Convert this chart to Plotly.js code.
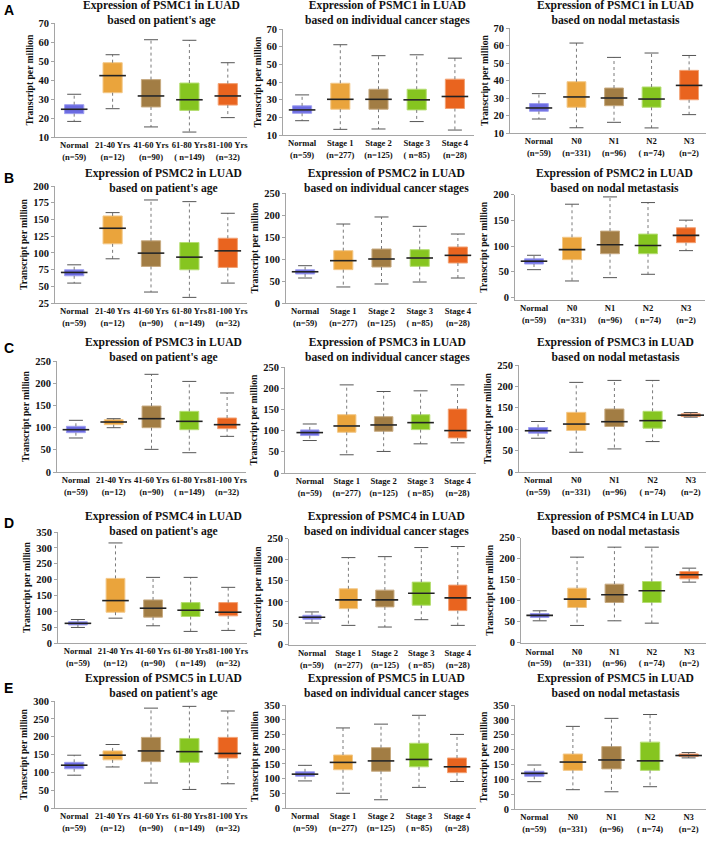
<!DOCTYPE html>
<html><head><meta charset="utf-8">
<script src="https://cdn.plot.ly/plotly-3.0.1.min.js"></script>
<style>html,body{margin:0;padding:0;background:#fff}#chart{width:708px;height:844px}</style>
</head><body><div id="chart"></div>
<script>
// ---- tick labels / categories ----
const catsAge = ['Normal<br>(n=59)', '21-40 Yrs<br>(n=12)', '41-60 Yrs<br>(n=90)', '61-80 Yrs<br>( n=149)', '81-100 Yrs<br>(n=32)'];
const catsStage = ['Normal<br>(n=59)', 'Stage 1<br>(n=277)', 'Stage 2<br>(n=125)', 'Stage 3<br>( n=85)', 'Stage 4<br>(n=28)'];
const catsNodal = ['Normal<br>(n=59)', 'N0<br>(n=331)', 'N1<br>(n=96)', 'N2<br>( n=74)', 'N3<br>(n=2)'];
const genes = ['PSMC1', 'PSMC2', 'PSMC3', 'PSMC4', 'PSMC5'];
const panelLetters = ['A', 'B', 'C', 'D', 'E'];
const subtitles = {age: "based on patient's age", stage: 'based on individual cancer stages', nodal: 'based on nodal metastasis'};

// ---- box statistics: [lower whisker, q1, median, q3, upper whisker] per category ----
const PSMC1_age_low = [18.2, 24.9, 15.3, 12.6, 20.2];
const PSMC1_age_q1  = [22.3, 33.3, 25.8, 24.0, 26.8];
const PSMC1_age_med = [24.6, 42.3, 31.6, 29.6, 31.6];
const PSMC1_age_q3  = [27.0, 49.1, 40.2, 38.4, 38.1];
const PSMC1_age_high= [32.5, 53.3, 61.2, 60.9, 49.1];

const PSMC1_stage_low = [18.1, 13.2, 13.4, 17.6, 12.8];
const PSMC1_stage_q1  = [22.3, 24.6, 24.6, 24.2, 25.0];
const PSMC1_stage_med = [24.2, 30.2, 30.2, 29.9, 31.8];
const PSMC1_stage_q3  = [26.5, 39.3, 35.9, 35.9, 41.6];
const PSMC1_stage_high= [32.7, 61.1, 54.9, 55.4, 53.5];

const PSMC1_nodal_low = [18.0, 13.0, 16.1, 12.9, 20.5];
const PSMC1_nodal_q1  = [22.4, 24.7, 25.6, 24.7, 29.0];
const PSMC1_nodal_med = [24.3, 30.6, 30.0, 29.4, 37.2];
const PSMC1_nodal_q3  = [26.8, 39.3, 35.7, 36.3, 45.8];
const PSMC1_nodal_high= [32.5, 61.4, 53.2, 55.7, 54.3];

const PSMC2_age_low = [54.8, 91.1, 41.4, 33.4, 54.8];
const PSMC2_age_q1  = [65.7, 113.5, 79.7, 74.7, 78.2];
const PSMC2_age_med = [70.7, 136.8, 99.6, 93.6, 103.0];
const PSMC2_age_q3  = [74.7, 155.2, 118.0, 115.5, 121.9];
const PSMC2_age_high= [82.1, 160.2, 179.1, 176.6, 159.2];

const PSMC2_stage_low = [56.8, 36.4, 43.2, 47.7, 56.8];
const PSMC2_stage_q1  = [66.0, 75.8, 81.8, 83.3, 90.9];
const PSMC2_stage_med = [71.0, 96.2, 100.0, 102.3, 108.3];
const PSMC2_stage_q3  = [75.5, 118.9, 122.7, 121.2, 127.3];
const PSMC2_stage_high= [84.8, 179.5, 195.5, 174.2, 156.8];

const PSMC2_nodal_low = [54.0, 32.0, 38.5, 45.0, 91.0];
const PSMC2_nodal_q1  = [65.0, 73.5, 85.0, 85.0, 106.5];
const PSMC2_nodal_med = [70.5, 93.0, 102.5, 101.0, 120.6];
const PSMC2_nodal_q3  = [75.0, 117.0, 129.0, 123.2, 135.5];
const PSMC2_nodal_high= [82.0, 181.3, 195.5, 184.5, 150.3];

const PSMC3_age_low = [76.6, 99.8, 51.0, 43.5, 80.3];
const PSMC3_age_q1  = [88.6, 106.6, 99.8, 95.3, 97.6];
const PSMC3_age_med = [95.3, 112.6, 120.1, 114.1, 106.6];
const PSMC3_age_q3  = [102.9, 117.9, 148.6, 136.6, 121.6];
const PSMC3_age_high= [116.4, 120.1, 220.0, 204.0, 178.0];

const PSMC3_stage_low = [76.6, 43.0, 50.8, 68.8, 71.1];
const PSMC3_stage_q1  = [88.3, 96.1, 98.4, 102.3, 82.8];
const PSMC3_stage_med = [95.3, 110.9, 113.3, 118.8, 100.0];
const PSMC3_stage_q3  = [101.6, 137.5, 132.8, 137.5, 150.8];
const PSMC3_stage_high= [115.6, 207.8, 192.2, 193.8, 207.8];

const PSMC3_nodal_low = [78.9, 46.1, 53.9, 71.1, 128.1];
const PSMC3_nodal_q1  = [90.6, 96.9, 106.3, 102.3, 129.7];
const PSMC3_nodal_med = [96.4, 112.0, 117.5, 120.0, 132.8];
const PSMC3_nodal_q3  = [103.9, 139.4, 147.2, 141.8, 135.9];
const PSMC3_nodal_high= [118.0, 209.4, 214.0, 214.0, 139.0];

const PSMC4_age_low = [49.0, 78.3, 54.3, 36.5, 39.7];
const PSMC4_age_q1  = [57.0, 97.1, 81.5, 83.5, 85.6];
const PSMC4_age_med = [62.0, 133.7, 109.7, 103.4, 97.1];
const PSMC4_age_q3  = [67.0, 203.7, 135.8, 127.4, 127.4];
const PSMC4_age_high= [74.0, 315.5, 206.9, 206.9, 175.5];

const PSMC4_stage_low = [50.0, 44.4, 40.5, 57.9, 44.4];
const PSMC4_stage_q1  = [59.0, 84.1, 88.1, 92.1, 79.4];
const PSMC4_stage_med = [63.5, 104.8, 104.8, 120.6, 109.5];
const PSMC4_stage_q3  = [68.3, 131.0, 127.8, 146.8, 139.7];
const PSMC4_stage_high= [76.2, 204.8, 207.1, 228.6, 231.0];

const PSMC4_nodal_low = [51.6, 40.5, 51.6, 46.0, 143.7];
const PSMC4_nodal_q1  = [59.5, 83.3, 95.2, 95.2, 151.6];
const PSMC4_nodal_med = [64.5, 103.2, 113.5, 123.0, 161.1];
const PSMC4_nodal_q3  = [69.0, 129.4, 138.9, 145.2, 169.0];
const PSMC4_nodal_high= [75.4, 203.2, 227.0, 227.0, 177.0];

const PSMC5_age_low = [92, 115, 70, 52, 68];
const PSMC5_age_q1  = [110, 135, 130, 128, 140];
const PSMC5_age_med = [120, 148, 160, 158, 153];
const PSMC5_age_q3  = [128, 160, 198, 195, 198];
const PSMC5_age_high= [148, 178, 280, 285, 272];

const PSMC5_stage_low = [92, 50, 28, 70, 90];
const PSMC5_stage_q1  = [108, 130, 125, 140, 120];
const PSMC5_stage_med = [115, 155, 160, 165, 140];
const PSMC5_stage_q3  = [123, 180, 205, 220, 170];
const PSMC5_stage_high= [145, 272, 285, 315, 250];

const PSMC5_nodal_low = [92, 65, 58, 75, 172];
const PSMC5_nodal_q1  = [110, 130, 135, 130, 177];
const PSMC5_nodal_med = [120, 158, 165, 162, 180];
const PSMC5_nodal_q3  = [127, 185, 210, 225, 185];
const PSMC5_nodal_high= [148, 278, 305, 318, 190];

const DATA = {
  PSMC1_age: [PSMC1_age_low, PSMC1_age_q1, PSMC1_age_med, PSMC1_age_q3, PSMC1_age_high],
  PSMC1_stage: [PSMC1_stage_low, PSMC1_stage_q1, PSMC1_stage_med, PSMC1_stage_q3, PSMC1_stage_high],
  PSMC1_nodal: [PSMC1_nodal_low, PSMC1_nodal_q1, PSMC1_nodal_med, PSMC1_nodal_q3, PSMC1_nodal_high],
  PSMC2_age: [PSMC2_age_low, PSMC2_age_q1, PSMC2_age_med, PSMC2_age_q3, PSMC2_age_high],
  PSMC2_stage: [PSMC2_stage_low, PSMC2_stage_q1, PSMC2_stage_med, PSMC2_stage_q3, PSMC2_stage_high],
  PSMC2_nodal: [PSMC2_nodal_low, PSMC2_nodal_q1, PSMC2_nodal_med, PSMC2_nodal_q3, PSMC2_nodal_high],
  PSMC3_age: [PSMC3_age_low, PSMC3_age_q1, PSMC3_age_med, PSMC3_age_q3, PSMC3_age_high],
  PSMC3_stage: [PSMC3_stage_low, PSMC3_stage_q1, PSMC3_stage_med, PSMC3_stage_q3, PSMC3_stage_high],
  PSMC3_nodal: [PSMC3_nodal_low, PSMC3_nodal_q1, PSMC3_nodal_med, PSMC3_nodal_q3, PSMC3_nodal_high],
  PSMC4_age: [PSMC4_age_low, PSMC4_age_q1, PSMC4_age_med, PSMC4_age_q3, PSMC4_age_high],
  PSMC4_stage: [PSMC4_stage_low, PSMC4_stage_q1, PSMC4_stage_med, PSMC4_stage_q3, PSMC4_stage_high],
  PSMC4_nodal: [PSMC4_nodal_low, PSMC4_nodal_q1, PSMC4_nodal_med, PSMC4_nodal_q3, PSMC4_nodal_high],
  PSMC5_age: [PSMC5_age_low, PSMC5_age_q1, PSMC5_age_med, PSMC5_age_q3, PSMC5_age_high],
  PSMC5_stage: [PSMC5_stage_low, PSMC5_stage_q1, PSMC5_stage_med, PSMC5_stage_q3, PSMC5_stage_high],
  PSMC5_nodal: [PSMC5_nodal_low, PSMC5_nodal_q1, PSMC5_nodal_med, PSMC5_nodal_q3, PSMC5_nodal_high]
};
const yRanges = {
  PSMC1_age:[10,70], PSMC1_stage:[10,70], PSMC1_nodal:[10,70],
  PSMC2_age:[25,200], PSMC2_stage:[0,250], PSMC2_nodal:[-5,200],
  PSMC3_age:[0,250], PSMC3_stage:[0,250], PSMC3_nodal:[0,250],
  PSMC4_age:[0,350], PSMC4_stage:[-2,250], PSMC4_nodal:[-2,250],
  PSMC5_age:[0,300], PSMC5_stage:[0,350], PSMC5_nodal:[0,350]
};
const yDticks = {
  PSMC1_age:10, PSMC1_stage:10, PSMC1_nodal:10,
  PSMC2_age:25, PSMC2_stage:50, PSMC2_nodal:50,
  PSMC3_age:50, PSMC3_stage:50, PSMC3_nodal:50,
  PSMC4_age:50, PSMC4_stage:50, PSMC4_nodal:50,
  PSMC5_age:50, PSMC5_stage:50, PSMC5_nodal:50
};

// ---- styling ----
const fillColors = ['#6c6ce2', '#eaa43c', '#a27d44', '#86c520', '#e9641f'];
const edgeColors = ['#9e9ef0', '#f3c888', '#c7aa80', '#b5de72', '#f3a173'];
const SERIF = 'Liberation Serif, Times New Roman, serif';
const W = 708, H = 844;

// layout geometry per panel (pixels): [xLeft, xRight, xMin, xMax, yTop, yBottom]
const geom = [
  [55,247,-0.5,4.5, 23,137], [283,474,-0.5,4.5, 29,135], [510,706,-0.77,4.45, 28,133],
  [55,247,-0.5,4.5, 186,303], [286,477,-0.5,4.5, 193,303], [515,705,-0.5,4.5, 194.6,300],
  [57,246,-0.5,4.5, 361,472], [285,476,-0.67,4.5, 367,473], [519,706,-0.5,4.4, 365,472],
  [58,247,-0.53,4.5, 532,643], [289,476,-0.63,4.5, 538.5,645], [521,706,-0.5,4.45, 537.5,643.3],
  [55,247,-0.5,4.5, 701,808], [286,476,-0.5,4.5, 705,808], [515,706,-0.5,4.45, 705,809]
];
const titleCenters = [[161,13.5],[388,13.5],[615,13.5],[163,181],[386,181],[614,181],[163,350],[388,350],[615,350],[163,523.5],[386,523.5],[615,523.5],[163,686],[386,686],[615,686]];
const letterY = [10, 178, 348, 523, 688];

const groups = ['age', 'stage', 'nodal'];
const catsFor = {age: catsAge, stage: catsStage, nodal: catsNodal};

const traces = [];
const layout = {
  width: W, height: H, margin: {l:0, r:0, t:0, b:0},
  paper_bgcolor: '#fff', plot_bgcolor: 'rgba(0,0,0,0)',
  showlegend: false, boxmode: 'overlay', annotations: []
};

let p = 0;
genes.forEach((gene, gi) => {
  groups.forEach((grp, ci) => {
    const key = gene + '_' + grp;
    const [low, q1, med, q3, high] = DATA[key];
    const n = p + 1;
    const xa = n === 1 ? 'x' : 'x' + n;
    const ya = n === 1 ? 'y' : 'y' + n;
    const xk = n === 1 ? 'xaxis' : 'xaxis' + n;
    const yk = n === 1 ? 'yaxis' : 'yaxis' + n;
    const g = geom[p];
    const idx = [0,1,2,3,4];

    // whiskers (dotted)
    const wx = [], wy = [];
    idx.forEach(j => { wx.push(j, j, null, j, j, null); wy.push(q3[j], high[j], null, q1[j], low[j], null); });
    traces.push({type:'scatter', mode:'lines', x:wx, y:wy, xaxis:xa, yaxis:ya,
      line:{color:'#7a7a7a', width:1, dash:'dot'}, hoverinfo:'skip', showlegend:false});
    // boxes
    idx.forEach(j => {
      traces.push({type:'box', x:[j], q1:[q1[j]], median:[med[j]], q3:[q3[j]],
        lowerfence:[q1[j]], upperfence:[q3[j]], width:0.5, whiskerwidth:0,
        fillcolor: fillColors[j], line:{color: edgeColors[j], width:1},
        xaxis:xa, yaxis:ya, hoverinfo:'skip', showlegend:false});
    });
    // caps
    traces.push({type:'scatter', mode:'markers', x:idx.concat(idx), y:high.concat(low), xaxis:xa, yaxis:ya,
      marker:{symbol:'line-ew', size:10, color:'#555', line:{color:'#555', width:1}}, hoverinfo:'skip', showlegend:false});
    // medians
    traces.push({type:'scatter', mode:'markers', x:idx, y:med, xaxis:xa, yaxis:ya,
      marker:{symbol:'line-ew', size:19, color:'#222', line:{color:'#222', width:1.6}}, hoverinfo:'skip', showlegend:false});

    layout[xk] = {
      domain:[g[0]/W, g[1]/W], range:[g[2], g[3]], anchor: ya,
      tickvals: idx, ticktext: catsFor[grp], ticks:'', showgrid:false, zeroline:false,
      showline:true, linecolor:'#a5a5a5', linewidth:1, tickangle:0,
      tickfont:{family:SERIF, size:8.6, color:'#111', weight:700}
    };
    const yr = yRanges[key];
    layout[yk] = {
      domain:[1 - g[5]/H, 1 - g[4]/H], range: yr, anchor: xa,
      dtick: yDticks[key], tick0: 0, ticks:'outside', ticklen:3, tickcolor:'#a5a5a5',
      showgrid:false, zeroline:false, showline:true, linecolor:'#a5a5a5', linewidth:1,
      tickfont:{family:SERIF, size:10.5, color:'#111', weight:700},
      title:{text:'Transcript per million', font:{family:SERIF, size:9.6, color:'#111', weight:700}, standoff:3}
    };
    const tc = titleCenters[p];
    layout.annotations.push({
      xref:'paper', yref:'paper', x: tc[0]/W, y: 1 - tc[1]/H, xanchor:'center', yanchor:'middle',
      text: 'Expression of ' + gene + ' in LUAD<br>' + subtitles[grp], showarrow:false,
      font:{family:SERIF, size:11.6, color:'#111', weight:700}
    });
    p++;
  });
  layout.annotations.push({
    xref:'paper', yref:'paper', x: 2/W, y: 1 - letterY[gi]/H, xanchor:'left', yanchor:'middle',
    text: panelLetters[gi], showarrow:false,
    font:{family:'Liberation Sans, Arial, sans-serif', size:14, color:'#000', weight:700}
  });
});

Plotly.newPlot('chart', traces, layout, {staticPlot:true, displayModeBar:false});
</script>
</body></html>
